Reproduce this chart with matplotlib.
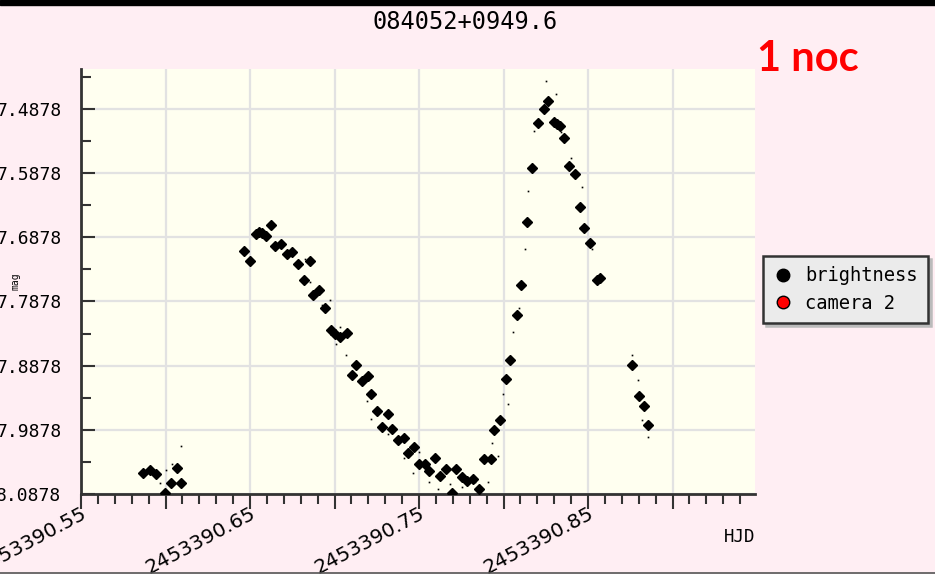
"""
Light curve of 084052+0949.6, one night (HJD 2453390.55 - .95).
"""
import numpy as np
import matplotlib
matplotlib.use('Agg')
import matplotlib.pyplot as plt
from matplotlib.lines import Line2D
from matplotlib.patches import Rectangle
from matplotlib.ticker import FixedLocator, FuncFormatter

# ── Data ──────────────────────────────────────────────────────────────────────
HJD0 = 2453390.0

# brightness measurements (diamonds)
hjd_frac = [
    0.5867, 0.5908, 0.5944, 0.5997, 0.6033, 0.6068, 0.6092,
    0.6464, 0.6500, 0.6536, 0.6553, 0.6571, 0.6595, 0.6624, 0.6648, 0.6683,
    0.6719, 0.6749, 0.6784, 0.6855, 0.6820, 0.6873, 0.6908, 0.6944, 0.6979,
    0.7003, 0.7033, 0.7074, 0.7127, 0.7104, 0.7163, 0.7198, 0.7216, 0.7251,
    0.7317, 0.7281, 0.7340, 0.7376, 0.7411, 0.7470, 0.7435, 0.7500, 0.7536,
    0.7559, 0.7595, 0.7624, 0.7660, 0.7719, 0.7754, 0.7784, 0.7820, 0.7695,
    0.7855, 0.7885, 0.7926, 0.7944, 0.7979, 0.8015, 0.8038, 0.8080, 0.8104,
    0.8139, 0.8169, 0.8204, 0.8240, 0.8263, 0.8299, 0.8317, 0.8334, 0.8358,
    0.8388, 0.8423, 0.8453, 0.8476, 0.8512, 0.8553, 0.8571,
    0.8760, 0.8802, 0.8831, 0.8855,
]
mag = [
    8.0548, 8.0501, 8.0563, 8.0859, 8.0703, 8.0470, 8.0703,
    7.7090, 7.7246, 7.6825, 7.6794, 7.6809, 7.6856, 7.6685, 7.7012, 7.6981,
    7.7137, 7.7105, 7.7292, 7.7246, 7.7541, 7.7775, 7.7697, 7.7978, 7.8320,
    7.8383, 7.8429, 7.8367, 7.8865, 7.9021, 7.9115, 7.9037, 7.9317, 7.9582,
    7.9629, 7.9831, 7.9862, 8.0034, 8.0003, 8.0143, 8.0236, 8.0407, 8.0407,
    8.0517, 8.0314, 8.0594, 8.0485, 8.0485, 8.0610, 8.0672, 8.0641, 8.0859,
    8.0797, 8.0330, 8.0330, 7.9878, 7.9722, 7.9084, 7.8788, 7.8087, 7.7619,
    7.6638, 7.5797, 7.5096, 7.4878, 7.4753, 7.5080, 7.5112, 7.5143, 7.5330,
    7.5766, 7.5890, 7.6404, 7.6732, 7.6965, 7.7541, 7.7510,
    7.8865, 7.9348, 7.9504, 7.9800,
]

# small dots (error-bar ends)
err_frac = [
    0.6092, 0.6003, 0.6038, 0.5967, 0.6973, 0.6926, 0.6825, 0.6855, 0.7009,
    0.7033, 0.7068, 0.7192, 0.7216, 0.7317, 0.7411, 0.7464, 0.7500, 0.7559,
    0.7612, 0.7683, 0.7754, 0.7831, 0.7908, 0.7932, 0.7967, 0.7997, 0.8027,
    0.8056, 0.8092, 0.8127, 0.8145, 0.8180, 0.8251, 0.8311, 0.8340, 0.8399,
    0.8464, 0.8524, 0.8760, 0.8796, 0.8820, 0.8855,
]
err_mag = [
    8.0127, 8.0501, 8.0407, 8.0703, 7.7853, 7.7931, 7.7214, 7.7573, 7.8538,
    7.8274, 7.8710, 7.9426, 7.9707, 7.9940, 8.0314, 8.0548, 8.0221, 8.0688,
    8.0797, 8.0719, 8.0766, 8.0688, 8.0688, 8.0080, 8.0283, 7.9317, 7.9473,
    7.8351, 7.7978, 7.7059, 7.6155, 7.5221, 7.4442, 7.4644, 7.5236, 7.5641,
    7.6093, 7.7059, 7.8710, 7.9099, 7.9722, 7.9987,
]

y_ticks = [7.4878, 7.5878, 7.6878, 7.7878, 7.8878, 7.9878, 8.0878]

# ── Figure ────────────────────────────────────────────────────────────────────
PINK = "#FFEEF3"
IVORY = "#FFFFF0"
MONO = "DejaVu Sans Mono"

fig = plt.figure(figsize=(9.35, 5.74), dpi=100, facecolor=PINK)
ax = fig.add_axes([81 / 935, 80 / 574, 674 / 935, 425 / 574])
ax.set_facecolor(IVORY)

x = HJD0 + np.array(hjd_frac)
xe = HJD0 + np.array(err_frac)
ax.plot(xe, err_mag, ls="none", marker="s", ms=1.2, mew=0, color="black", zorder=3)
ax.plot(x, mag, ls="none", marker="D", ms=5.2, color="black", zorder=4)

ax.set_xlim(HJD0 + 0.55, HJD0 + 0.9488)
ax.set_ylim(8.0878, 7.4255)

# x ticks: majors every 0.05 (labels every 0.1), minors every 0.01
xmaj = HJD0 + np.arange(55, 95, 5) / 100
xmin = HJD0 + np.arange(55, 95, 1) / 100
ax.xaxis.set_major_locator(FixedLocator(xmaj))
ax.xaxis.set_minor_locator(FixedLocator(xmin))


def xfmt(v, pos):
    k = int(round((v - HJD0) * 100))
    return f"{v:.2f}" if k % 10 == 5 else ""


ax.xaxis.set_major_formatter(FuncFormatter(xfmt))
ax.yaxis.set_major_locator(FixedLocator(y_ticks))
ax.yaxis.set_minor_locator(FixedLocator([t + 0.05 for t in [7.3878] + y_ticks]))
ax.yaxis.set_major_formatter(FuncFormatter(lambda v, p: f"{v:.4f}"))

ax.tick_params(axis="x", which="major", direction="out", length=11, width=1.5,
               color="#333333", labelsize=14.5, pad=-4, labelrotation=28)
ax.tick_params(axis="x", which="minor", direction="out", length=7, width=1.5,
               color="#333333")
ax.tick_params(axis="y", which="major", direction="in", length=10, width=1.5,
               color="#333333", pad=14)
ax.tick_params(axis="y", which="minor", direction="in", length=7, width=1.5,
               color="#333333")
plt.setp(ax.get_xticklabels(), ha="right", va="top", rotation_mode="anchor")
plt.setp(ax.get_yticklabels(), family=MONO, fontsize=13)

ax.grid(True, which="major", color="#E2E2E2", lw=1.6)
ax.set_axisbelow(True)
for s in ["top", "right"]:
    ax.spines[s].set_visible(False)
for s in ["left", "bottom"]:
    ax.spines[s].set_color("#333333")
    ax.spines[s].set_linewidth(2)

ax.set_ylabel("mag", family=MONO, fontsize=7)
ax.yaxis.set_label_coords(-0.09, 0.5)
ax.text(1.0, -0.1, "HJD", transform=ax.transAxes, ha="right", va="center",
        family=MONO, fontsize=12.5)

fig.text(465 / 935, 1 - 22 / 574, "084052+0949.6", ha="center", va="center",
         family=MONO, fontsize=17)
fig.text(757 / 935, 1 - 59 / 574, "1 noc", ha="left", va="center",
         family="Lato", fontweight="bold", fontsize=30, color="#FF0000")

# legend
handles = [
    Line2D([], [], ls="none", marker="o", ms=9, color="black"),
    Line2D([], [], ls="none", marker="o", ms=9, markerfacecolor="red",
           markeredgecolor="black"),
]
leg = fig.legend(handles, ["brightness", "camera 2"], loc="upper left",
                 bbox_to_anchor=(763 / 935, 1 - 256 / 574),
                 prop={"family": MONO, "size": 13.5}, frameon=True,
                 fancybox=False, shadow={"color": "#BBBBBB", "alpha": 1},
                 facecolor="#EBEBEB", edgecolor="#333333", framealpha=1,
                 borderpad=0.55, labelspacing=0.45, handletextpad=0.7,
                 handlelength=1.0, borderaxespad=0)
leg.get_frame().set_linewidth(1.8)

# top black band and bottom edge line
fig.add_artist(Rectangle((0, 1 - 5 / 574), 1, 5 / 574, transform=fig.transFigure,
                         color="black"))
fig.add_artist(Line2D([0, 1], [0.8 / 574, 0.8 / 574], transform=fig.transFigure,
                      color="#555555", lw=1.2))

fig.savefig("out.png", dpi=100, facecolor=PINK)
